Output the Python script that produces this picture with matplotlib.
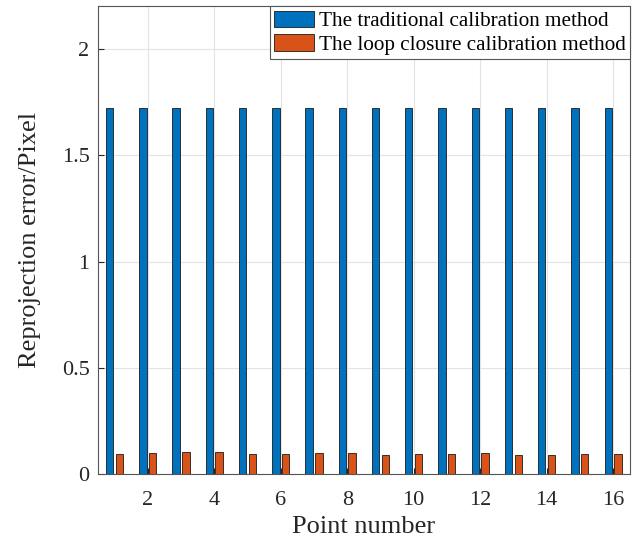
import numpy as np
import matplotlib.pyplot as plt

plt.rcParams["font.family"] = ["Liberation Serif", "DejaVu Serif"]
plt.rcParams["mathtext.fontset"] = "stix"

# reprojection error per calibration point
points = np.arange(1, 17)
traditional = [1.72] * 16
loop_closure = [0.096, 0.099, 0.103, 0.103, 0.096, 0.096, 0.099, 0.099,
                0.092, 0.096, 0.096, 0.099, 0.092, 0.092, 0.096, 0.096]
labels = ["The traditional calibration method",
          "The loop closure calibration method"]

blue = "#0072BD"
orange = "#D95319"
axis_col = "#262626"

fig = plt.figure(figsize=(6.4, 5.4), dpi=100)
ax = fig.add_axes([0.153, 0.1217, 0.831, 0.8666])

w = 0.22
off = 0.147
ax.bar(points - off, traditional, width=w, color=blue, edgecolor="#1a1a1a",
       linewidth=0.6, label=labels[0], zorder=3)
ax.bar(points + off, loop_closure, width=w, color=orange, edgecolor="#1a1a1a",
       linewidth=0.6, label=labels[1], zorder=3)

ax.set_xlim(0.5, 16.5)
ax.set_ylim(0, 2.2)
ax.set_xticks(np.arange(2, 17, 2))
ax.set_yticks([0, 0.5, 1, 1.5, 2])
ax.set_yticklabels(["0", "0.5", "1", "1.5", "2"])

ax.grid(True, color="#e3e3e3", linewidth=0.8, zorder=0)
ax.set_axisbelow(True)
ax.tick_params(direction="in", length=4, width=0.8, colors=axis_col,
               labelsize=16, top=False, right=False)
ax.tick_params(axis="x", pad=12)
ax.tick_params(axis="y", pad=6)
for s in ax.spines.values():
    s.set_color("#555555")
    s.set_linewidth(0.8)

ax.set_xlabel("Point number", fontsize=19, color=axis_col, labelpad=4)
ax.set_ylabel("Reprojection error/Pixel", fontsize=19, color=axis_col,
              labelpad=15)

leg = ax.legend(loc="upper right", fontsize=15.2, frameon=True, fancybox=False,
                borderaxespad=0, handlelength=1.9, handleheight=0.85,
                handletextpad=0.2, labelspacing=0.15, borderpad=0.2)
leg.get_frame().set_edgecolor("#555555")
leg.get_frame().set_linewidth(0.8)
leg.get_frame().set_alpha(1)

fig.savefig("out.png", dpi=100)
